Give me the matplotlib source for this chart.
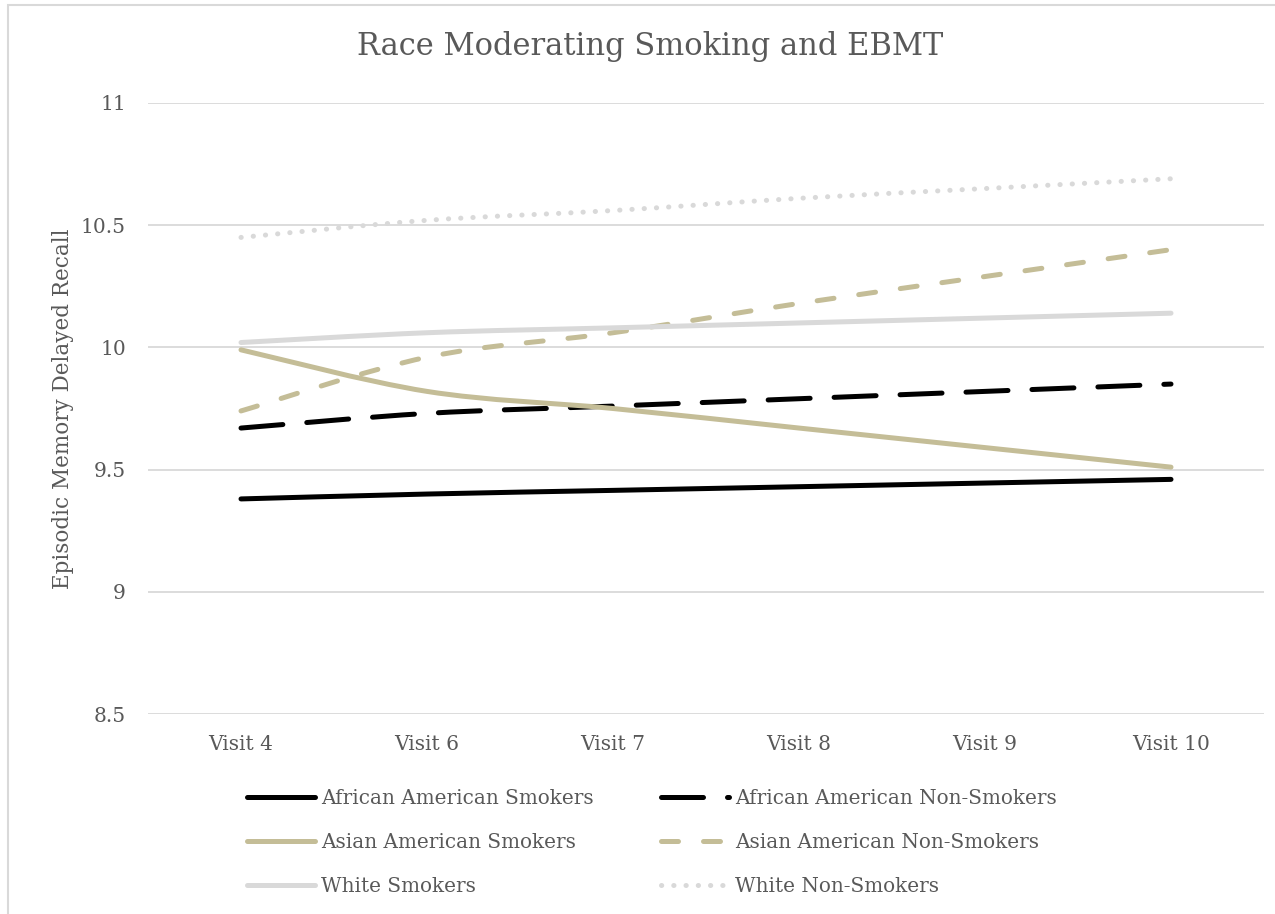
import numpy as np
import matplotlib
matplotlib.use("Agg")
import matplotlib.pyplot as plt
from matplotlib.path import Path
from matplotlib.patches import PathPatch, Rectangle
from matplotlib.lines import Line2D

visits = ["Visit 4", "Visit 6", "Visit 7", "Visit 8", "Visit 9", "Visit 10"]

aa_smokers = [9.38, 9.40, 9.415, 9.43, 9.445, 9.46]
aa_non_smokers = [9.67, 9.73, 9.76, 9.79, 9.82, 9.85]
asian_smokers = [9.99, 9.82, 9.75, 9.67, 9.59, 9.51]
asian_non_smokers = [9.74, 9.96, 10.06, 10.18, 10.29, 10.40]
white_smokers = [10.02, 10.06, 10.08, 10.10, 10.12, 10.14]
white_non_smokers = [10.45, 10.52, 10.56, 10.61, 10.65, 10.69]

BLACK = "#000000"
TAN = "#C4BD97"
GRAY = "#D9D9D9"
TEXT = "#595959"

plt.rcParams["font.family"] = ["DejaVu Serif"]

W, H = 1275, 914
fig = plt.figure(figsize=(W / 100, H / 100), dpi=100)

# outer chart frame, running past the right and bottom edges
fig.add_artist(Rectangle((8 / W, -0.05), 1.1, 1 - 5 / H + 0.05,
                         transform=fig.transFigure, fill=False,
                         edgecolor="#D9D9D9", lw=1.5))

ax = fig.add_axes([148 / W, 1 - 714 / H, (1264 - 148) / W, (714 - 103) / H])
ax.set_xlim(-0.5, len(visits) - 0.5)
ax.set_ylim(8.5, 11)
ax.set_yticks([8.5, 9, 9.5, 10, 10.5, 11])
ax.set_yticklabels(["8.5", "9", "9.5", "10", "10.5", "11"])
ax.set_xticks(range(len(visits)))
ax.set_xticklabels(visits)
ax.grid(axis="y", color=GRAY, lw=1.3)
ax.set_axisbelow(True)
for s in ax.spines.values():
    s.set_visible(False)
ax.tick_params(length=0, labelsize=14.5, labelcolor=TEXT)
ax.tick_params(axis="y", pad=16)
ax.tick_params(axis="x", pad=15)
ax.set_ylabel("Episodic Memory Delayed Recall", fontsize=15.5, color=TEXT, labelpad=5)


def smooth_path(xs, ys, t=1 / 6):
    """Bezier path through the points, with Catmull-Rom style handles."""
    pts = np.column_stack([xs, ys]).astype(float)
    n = len(pts)
    verts = [pts[0]]
    codes = [Path.MOVETO]
    for i in range(n - 1):
        p0 = pts[i - 1] if i > 0 else pts[i]
        p1 = pts[i]
        p2 = pts[i + 1]
        p3 = pts[i + 2] if i + 2 < n else pts[i + 1]
        c1 = p1 + (p2 - p0) * t
        c2 = p2 - (p3 - p1) * t
        verts += [c1, c2, p2]
        codes += [Path.CURVE4] * 3
    return Path(verts, codes)


LW = 3.6
series = [
    ("African American Smokers", aa_smokers, BLACK, "-"),
    ("African American Non-Smokers", aa_non_smokers, BLACK, (0, (8.4, 4.8))),
    ("Asian American Smokers", asian_smokers, TAN, "-"),
    ("Asian American Non-Smokers", asian_non_smokers, TAN, (0, (3.4, 5.0))),
    ("White Smokers", white_smokers, GRAY, "-"),
    ("White Non-Smokers", white_non_smokers, GRAY, (0, (0.05, 2.4))),
]

x = np.arange(len(visits))
handles = {}
for name, vals, col, ls in series:
    patch = PathPatch(smooth_path(x, vals), fill=False, edgecolor=col, lw=LW,
                      linestyle=ls, capstyle="round", joinstyle="round")
    ax.add_patch(patch)
    handles[name] = Line2D([], [], color=col, lw=LW, linestyle=ls,
                           dash_capstyle="round", solid_capstyle="round")

order = ["African American Smokers", "Asian American Smokers", "White Smokers",
         "African American Non-Smokers", "Asian American Non-Smokers", "White Non-Smokers"]
leg = fig.legend([handles[k] for k in order], order, ncol=2,
                 loc="upper left", bbox_to_anchor=(247 / W, 1 - 789 / H),
                 frameon=False, fontsize=14.4, handlelength=3.4, handletextpad=0.32,
                 columnspacing=3.35, labelspacing=1.25, labelcolor=TEXT,
                 borderpad=0, borderaxespad=0)

fig.text(650 / W, 1 - 47 / H, "Race Moderating Smoking and EBMT", ha="center",
         va="center", fontsize=22, color=TEXT)

fig.savefig("out.png", dpi=100)
